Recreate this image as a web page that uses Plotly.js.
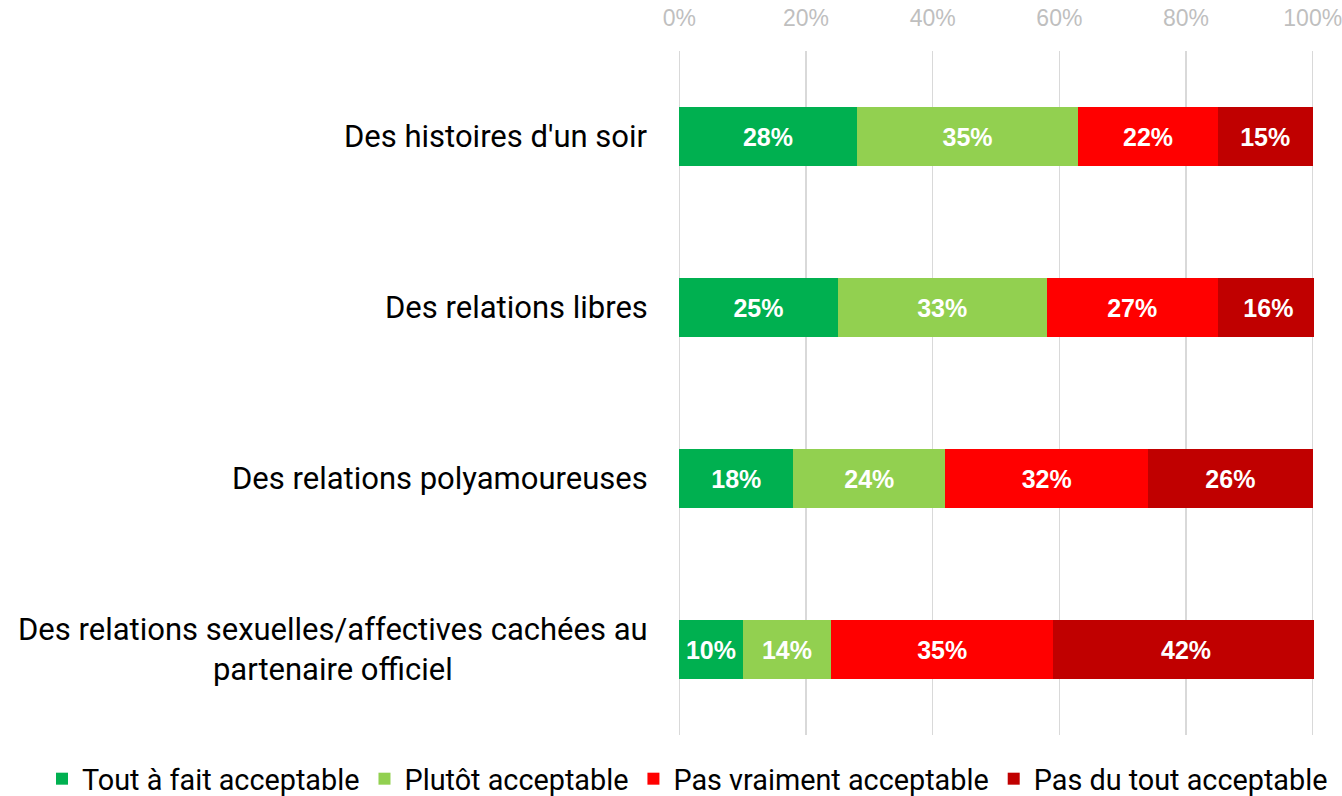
<!DOCTYPE html>
<html>
<head>
<meta charset="utf-8">
<script src="https://cdn.plot.ly/plotly-3.0.1.min.js"></script>
<style>
  html, body { margin: 0; padding: 0; background: #ffffff; }
  #chart { width: 1342px; height: 796px; }
</style>
</head>
<body>
<div id="chart"></div>
<script>
const categories = [
  "Des histoires d'un soir",
  "Des relations libres",
  "Des relations polyamoureuses",
  "Des relations sexuelles/affectives cachées au<br>partenaire officiel"
];
const seriesNames = [
  "Tout à fait acceptable",
  "Plutôt acceptable",
  "Pas vraiment acceptable",
  "Pas du tout acceptable"
];
const toutAFait = [28, 25, 18, 10];
const plutot = [35, 33, 24, 14];
const pasVraiment = [22, 27, 32, 35];
const pasDuTout = [15, 16, 26, 42];
const tickValues = [0, 20, 40, 60, 80, 100];
const tickLabels = ["0%", "20%", "40%", "60%", "80%", "100%"];

const colors = ["#00B050", "#92D050", "#FF0000", "#C00000"];
const allSeries = [toutAFait, plutot, pasVraiment, pasDuTout];

const traces = allSeries.map((vals, i) => ({
  type: "bar",
  orientation: "h",
  name: seriesNames[i],
  y: categories,
  x: vals,
  marker: { color: colors[i], line: { width: 0 } },
  texttemplate: "%{x}%",
  textposition: "inside",
  insidetextanchor: "middle",
  textangle: 0,
  textfont: { family: "Liberation Sans, Arial, sans-serif", size: 25, color: "#ffffff", weight: "bold" },
  hoverinfo: "skip"
}));

const annotations = categories.map((c) => ({
  xref: "paper", yref: "y",
  x: 0, y: c,
  xanchor: "right", yanchor: "middle",
  xshift: -28,
  align: "center",
  showarrow: false,
  text: c,
  font: { family: "Roboto, sans-serif", size: 31, color: "#000000" }
}));

const layout = {
  width: 1342, height: 796,
  margin: { l: 678, r: 28, t: 51, b: 61, autoexpand: false },
  paper_bgcolor: "#ffffff",
  plot_bgcolor: "#ffffff",
  barmode: "stack",
  bargap: 0.65,
  showlegend: true,
  xaxis: {
    side: "top",
    range: [-0.2, 100.2],
    tickvals: tickValues,
    ticktext: tickLabels,
    ticks: "",
    ticklabelstandoff: 19,
    ticklabeloverflow: "allow",
    tickfont: { family: "Liberation Sans, Arial, sans-serif", size: 23, color: "#BFBFBF" },
    showgrid: true,
    gridcolor: "#D9D9D9",
    gridwidth: 1.5,
    zeroline: false,
    showline: false,
    fixedrange: true
  },
  yaxis: {
    type: "category",
    autorange: "reversed",
    showticklabels: false,
    showgrid: false,
    zeroline: false,
    showline: false,
    ticks: "",
    fixedrange: true
  },
  legend: {
    orientation: "h",
    xref: "paper", yref: "paper",
    x: -1.0, y: -0.027,
    xanchor: "left", yanchor: "top",
    font: { family: "Roboto, sans-serif", size: 28.8, color: "#000000" },
    traceorder: "normal",
    itemclick: false
  },
  annotations: annotations
};

Plotly.newPlot("chart", traces, layout, { displayModeBar: false, staticPlot: true });
</script>
</body>
</html>
